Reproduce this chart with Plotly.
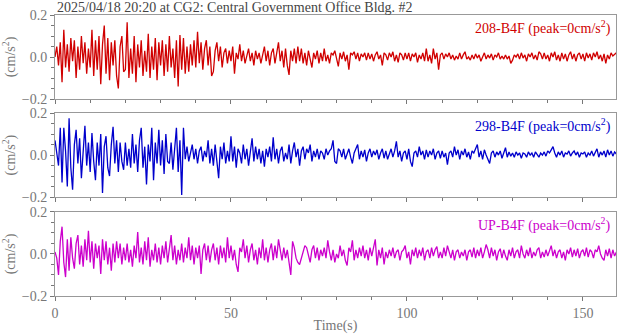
import numpy as np
import plotly.graph_objects as go
from plotly.subplots import make_subplots

dt = 0.5  # sampling step of the digitised records (s)

ns_208 = [
    0.0, 0.05, -0.04, 0.07, -0.12, 0.13, -0.05, 0.06, -0.07, 0.09, -0.02, 0.08, -0.10, 0.05, -0.06, 0.10, -0.03, 0.07, -0.08, 0.04,
    -0.05, 0.13, -0.09, 0.08, -0.06, 0.10, -0.13, 0.06, 0.15, -0.08, 0.09, -0.11, 0.07, -0.04, 0.08, -0.09, -0.15, 0.05, 0.10, -0.07,
    -0.06, 0.165, -0.10, 0.04, -0.08, 0.10, -0.12, 0.06, -0.05, 0.08, -0.09, 0.03, -0.07, 0.11, -0.10, 0.05, -0.06, 0.09, -0.11, 0.07,
    -0.04, 0.08, -0.09, 0.06, -0.07, 0.10, -0.05, 0.04, -0.10, 0.08, -0.14, 0.105, -0.06, 0.09, -0.08, 0.05, -0.07, 0.06, -0.04, 0.08,
    -0.05, 0.12, -0.03, 0.07, -0.06, 0.04, 0.08, -0.04, 0.05, -0.09, -0.07, 0.03, 0.07, -0.02, 0.05, -0.05, 0.02, 0.04, -0.03, 0.03,
    -0.02, 0.05, -0.08, 0.02, -0.01, 0.06, -0.02, 0.03, -0.03, 0.01, 0.04, -0.02, 0.02, -0.04, 0.03, -0.01, 0.02, -0.03, 0.01, 0.05,
    -0.02, 0.03, -0.04, 0.02, 0.04, -0.03, 0.02, 0.07, -0.02, 0.03, -0.05, 0.04, -0.04, -0.085, 0.03, -0.02, 0.04, -0.03, 0.05, -0.02,
    0.04, -0.03, 0.02, -0.04, 0.03, -0.02, -0.05, 0.02, -0.01, 0.03, -0.03, 0.02, -0.02, 0.04, -0.02, 0.01, -0.03, 0.02, 0.01, 0.03,
    -0.01, -0.045, 0.02, -0.01, 0.025, -0.02, 0.01, -0.06, 0.02, 0.01, 0.025, -0.01, 0.02, -0.02, 0.015, 0.0, 0.02, -0.015, 0.02, -0.01,
    0.015, -0.02, 0.01, 0.025, -0.01, 0.01, -0.04, 0.02, 0.01, -0.015, 0.02, 0.0, 0.025, -0.02, 0.01, -0.025, 0.02, 0.01, -0.015, 0.02,
    -0.01, 0.02, -0.02, 0.015, 0.0, 0.02, -0.025, 0.01, -0.01, 0.02, -0.02, 0.04, -0.02, 0.01, -0.03, 0.04, -0.01, 0.02, -0.06, 0.01,
    0.02, -0.01, 0.015, 0.0, 0.02, -0.01, 0.01, -0.015, 0.005, -0.01, 0.02, -0.01, 0.01, 0.025, -0.01, 0.0, -0.015, 0.01, -0.01, 0.015,
    -0.005, 0.01, -0.02, 0.005, 0.02, -0.01, 0.01, -0.005, 0.015, -0.015, 0.01, 0.0, 0.02, -0.01, 0.005, -0.01, 0.01, -0.01, 0.005, -0.03,
    -0.015, 0.01, 0.0, 0.015, -0.01, 0.02, -0.005, 0.01, -0.02, 0.015, 0.0, 0.02, -0.01, 0.01, -0.015, 0.025, 0.015, -0.01, 0.02, -0.01,
    0.01, -0.02, 0.02, 0.0, 0.025, -0.015, 0.01, -0.02, 0.02, -0.01, 0.015, -0.02, 0.01, 0.025, -0.01, 0.015, -0.02, 0.01, 0.02, -0.01,
    0.015, -0.02, 0.02, -0.005, 0.015, -0.015, 0.02, 0.0, 0.025, -0.01, 0.01, -0.02, 0.015, -0.03, 0.01, -0.01, 0.02, 0.005, 0.015, 0.02,
]

ew_298 = [
    0.07, 0.02, -0.05, 0.13, -0.13, 0.13, 0.02, -0.15, 0.175, -0.06, -0.165, 0.05, 0.12, -0.04, 0.08, -0.11, 0.03, 0.14, -0.05, 0.06,
    -0.08, 0.105, -0.03, -0.12, 0.06, -0.05, 0.10, -0.18, 0.04, 0.09, -0.06, -0.10, 0.05, 0.135, -0.04, 0.07, -0.08, 0.06, -0.03, -0.07,
    0.06, -0.05, 0.03, -0.06, 0.10, -0.04, 0.05, -0.08, 0.07, 0.13, -0.06, 0.04, -0.14, 0.05, -0.03, 0.13, -0.12, 0.06, -0.04, 0.12,
    -0.05, 0.07, -0.09, 0.10, -0.03, -0.04, 0.06, -0.07, 0.03, 0.13, -0.08, 0.07, -0.19, 0.13, -0.02, 0.04, -0.03, 0.02, 0.05, -0.02,
    0.03, -0.04, 0.02, 0.04, -0.03, 0.02, -0.01, 0.07, -0.04, 0.03, -0.05, 0.05, -0.02, -0.11, 0.04, -0.02, 0.06, -0.04, 0.02, -0.03,
    0.09, -0.03, 0.04, -0.06, 0.03, 0.01, -0.04, 0.05, -0.02, 0.03, -0.05, 0.02, 0.08, -0.03, 0.04, -0.02, 0.03, -0.04, 0.02, -0.055,
    0.03, -0.01, 0.04, -0.03, 0.085, -0.02, 0.03, -0.04, 0.02, 0.04, -0.03, 0.01, -0.02, 0.05, -0.04, 0.02, 0.06, -0.01, 0.03, -0.05,
    0.02, 0.04, -0.02, 0.03, 0.01, 0.05, -0.03, 0.02, -0.01, 0.03, -0.02, 0.02, 0.01, -0.02, 0.03, 0.0, 0.02, 0.03, 0.07, -0.03,
    -0.04, 0.03, 0.02, -0.01, 0.03, -0.02, 0.01, 0.03, -0.01, -0.04, 0.01, 0.03, 0.05, -0.02, 0.02, -0.01, 0.025, -0.03, 0.01, 0.03,
    -0.01, 0.02, 0.0, 0.025, -0.02, 0.01, 0.03, -0.015, 0.02, -0.02, 0.01, 0.03, -0.01, 0.02, 0.065, -0.01, 0.02, -0.03, 0.01, 0.02,
    -0.02, 0.03, -0.03, -0.055, 0.01, 0.02, -0.01, 0.04, 0.0, 0.02, -0.02, 0.025, -0.01, 0.02, 0.0, 0.03, -0.02, 0.01, 0.02, -0.015,
    0.02, -0.01, 0.01, -0.045, 0.01, 0.02, -0.01, 0.04, 0.0, 0.025, -0.02, 0.02, 0.0, 0.03, -0.01, 0.015, -0.02, 0.02, 0.01, 0.03,
    0.05, -0.01, 0.02, -0.02, 0.025, 0.0, -0.02, -0.04, 0.01, 0.02, -0.01, 0.015, 0.0, 0.02, -0.015, 0.01, 0.035, -0.01, 0.015, -0.005,
    0.01, -0.01, 0.015, 0.0, 0.01, -0.015, 0.01, 0.005, -0.01, 0.015, 0.0, 0.01, -0.01, 0.015, 0.005, -0.01, 0.01, 0.0, 0.015, -0.005,
    0.02, 0.01, 0.025, 0.04, 0.01, -0.01, 0.015, 0.0, 0.02, -0.01, 0.01, 0.005, 0.02, -0.005, 0.01, 0.02, 0.0, 0.015, -0.01, 0.01,
    0.005, 0.015, -0.01, 0.01, 0.0, 0.02, -0.005, 0.01, 0.03, -0.01, 0.015, 0.0, 0.02, -0.01, 0.025, 0.0, 0.02, -0.005, 0.015, 0.005,
]

ud = [
    0.01, -0.02, -0.10, 0.06, 0.13, -0.04, -0.11, 0.07, -0.08, 0.08, -0.02, -0.07, 0.05, 0.09, -0.05, 0.04, -0.06, 0.07, -0.03, 0.11,
    -0.04, 0.06, -0.07, 0.05, -0.02, 0.04, -0.095, 0.07, -0.03, 0.06, -0.05, 0.03, -0.08, 0.05, -0.04, 0.06, -0.02, 0.05, -0.05, 0.03,
    -0.03, 0.05, -0.04, 0.02, -0.06, 0.04, -0.02, 0.105, -0.04, 0.03, -0.05, 0.06, -0.03, 0.08, -0.06, 0.02, -0.03, 0.05, -0.04, 0.03,
    -0.05, 0.04, -0.02, 0.06, -0.04, 0.03, 0.09, -0.03, 0.04, -0.05, 0.02, -0.03, 0.05, -0.04, 0.03, -0.02, 0.08, -0.03, 0.04, -0.05,
    0.03, -0.02, 0.04, -0.095, 0.02, 0.05, -0.03, 0.04, -0.04, 0.02, 0.05, -0.03, 0.03, -0.05, 0.04, -0.02, 0.03, -0.04, 0.08, -0.02,
    0.04, -0.03, 0.02, -0.05, -0.085, 0.03, 0.01, 0.07, -0.02, 0.04, -0.04, 0.02, 0.05, -0.03, 0.02, -0.05, 0.03, -0.02, 0.07, -0.03,
    0.03, -0.04, 0.02, 0.05, -0.03, 0.04, -0.02, 0.07, 0.01, -0.03, 0.03, -0.02, 0.02, -0.05, -0.10, 0.06, 0.03, -0.02, -0.04, -0.05,
    -0.02, 0.01, 0.04, 0.03, -0.01, -0.04, 0.02, 0.04, -0.02, 0.03, -0.03, 0.02, -0.01, 0.03, -0.02, 0.065, 0.01, -0.03, 0.02, -0.04,
    0.0, -0.02, 0.04, -0.01, 0.02, -0.03, -0.055, 0.03, 0.01, 0.065, -0.03, 0.02, -0.02, 0.03, -0.01, 0.04, -0.02, 0.02, -0.03, 0.03,
    -0.01, 0.03, 0.07, -0.055, 0.02, -0.02, 0.03, -0.05, 0.01, -0.02, 0.02, -0.01, 0.03, -0.02, 0.01, 0.02, -0.03, 0.01, 0.02, 0.04,
    -0.02, 0.01, -0.05, 0.02, -0.01, 0.03, -0.02, 0.02, -0.01, 0.03, -0.03, 0.01, 0.02, -0.02, 0.03, -0.01, 0.02, 0.035, -0.02, 0.01,
    -0.02, 0.03, -0.01, 0.04, 0.01, -0.02, 0.02, -0.03, 0.01, 0.02, -0.02, 0.01, -0.01, 0.02, -0.03, 0.01, 0.02, -0.015, 0.03, -0.02,
    0.02, -0.01, 0.03, -0.02, 0.01, 0.045, 0.02, -0.02, 0.03, -0.01, 0.02, -0.03, 0.01, 0.025, -0.02, 0.02, -0.01, -0.03, 0.02, -0.01,
    0.03, -0.02, 0.01, 0.02, -0.02, 0.04, 0.0, -0.02, 0.02, -0.01, 0.03, -0.02, 0.01, -0.01, 0.02, 0.03, -0.02, 0.01, -0.015, 0.02,
    -0.01, 0.02, 0.04, -0.01, 0.02, -0.02, 0.01, 0.02, -0.02, 0.01, -0.03, 0.02, 0.0, 0.03, -0.015, 0.02, -0.01, 0.025, -0.02, 0.01,
    0.02, -0.01, 0.03, -0.015, 0.02, 0.01, -0.02, 0.02, 0.01, 0.04, 0.0, -0.02, -0.03, 0.02, -0.01, 0.025, -0.02, 0.02, -0.01, 0.01,
]

labels = ["208-B4F", "298-B4F", "UP-B4F"]
colors = ["#d00000", "#0000cc", "#cc00cc"]
series = [ns_208, ew_298, ud]

FONT = "Liberation Serif, Times New Roman, serif"
GRAY = "#777777"

fig = make_subplots(rows=3, cols=1, shared_xaxes=True, vertical_spacing=0.05)
# three panels of equal height (84 px) with ~14 px gaps
domains = [[0.701, 1.0], [0.352, 0.651], [0.0, 0.299]]

for i, (vals, col, lab) in enumerate(zip(series, colors, labels)):
    t = np.arange(len(vals)) * dt
    fig.add_trace(go.Scatter(x=t, y=vals, mode="lines", line=dict(color=col, width=1.3),
                             showlegend=False, hoverinfo="skip"), row=i + 1, col=1)
    fig.update_yaxes(domain=domains[i], range=[-0.2, 0.2], dtick=0.2, tickformat=".1f",
                     ticks="outside", ticklen=4, tickcolor=GRAY,
                     minor=dict(dtick=0.05, ticks="outside", ticklen=3, tickcolor=GRAY),
                     showline=True, linecolor="#999999", mirror=True, showgrid=False, zeroline=False,
                     title=dict(text="(cm/s<sup>2</sup>)", standoff=6,
                                font=dict(family=FONT, size=14, color=GRAY)),
                     tickfont=dict(family=FONT, size=14, color=GRAY),
                     automargin=False, row=i + 1, col=1)
    yref = "y domain" if i == 0 else f"y{i + 1} domain"
    fig.add_annotation(text=f"{lab} (peak=0cm/s<sup>2</sup>)", xref="paper", yref=yref,
                       x=0.995, y=0.99, xanchor="right", yanchor="top", showarrow=False,
                       font=dict(family=FONT, size=14, color=col))

fig.update_xaxes(range=[0, 159.4], dtick=50, ticks="outside", ticklen=4, tickcolor=GRAY,
                 minor=dict(dtick=10, ticks="outside", ticklen=3, tickcolor=GRAY),
                 showline=True, linecolor="#999999", mirror=True, showgrid=False, zeroline=False,
                 tickfont=dict(family=FONT, size=14, color=GRAY), automargin=False)
fig.update_xaxes(title=dict(text="Time(s)", standoff=0, font=dict(family=FONT, size=14, color=GRAY)),
                 row=3, col=1)

fig.add_annotation(text="2025/04/18 20:20 at CG2: Central Government Office Bldg. #2",
                   xref="paper", yref="paper", x=0.0, y=1.0, yshift=8, xanchor="left", yanchor="middle",
                   showarrow=False, font=dict(family=FONT, size=14, color="#444444"))

fig.update_layout(width=618, height=334, margin=dict(l=55, r=2, t=15, b=38),
                  plot_bgcolor="white", paper_bgcolor="white")

# drop the default 8 px body margin so the figure sits at the page corner
fig.write_html("out.html", config={"displayModeBar": False},
               post_script="document.body.style.margin='0';")
